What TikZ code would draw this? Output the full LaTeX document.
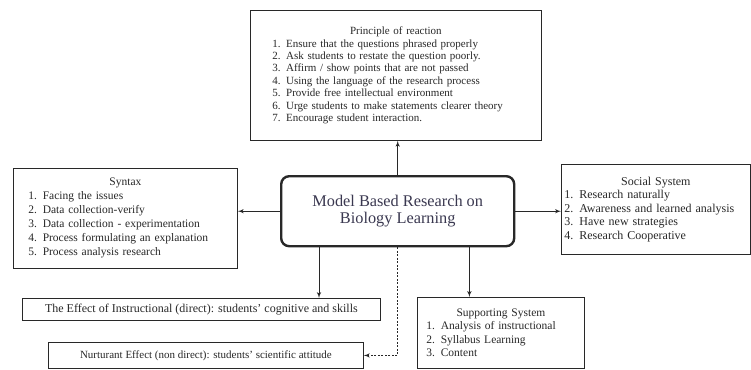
\documentclass[tikz,border=0pt]{standalone}
\usepackage{fontspec}
\setmainfont{Liberation Serif}
\usepackage{tikz}
\definecolor{inkish}{RGB}{40, 40, 40}
\definecolor{slateish}{RGB}{58, 56, 80}
\usetikzlibrary{arrows}
\tikzset{
  boxnode/.style = {draw=inkish, rectangle, line width=0.8pt, inner ysep=2pt,
    anchor=north west, text=inkish},
  box_list/.style = {boxnode, align=left, font=\fontsize{11}{12.4}\selectfont},% kotak daftar
  box_line/.style = {boxnode, align=center, font=\fontsize{12}{13}\selectfont},% kotak satu baris
  box_main/.style = {boxnode, align=center, rounded corners=8pt, line width=2.4pt,
    text=slateish, font=\fontsize{16.3}{17.5}\selectfont},% kotak model utama
  arr/.style = {->, draw=inkish, line width=1pt},
}
\newcommand{\boxtitle}[1]{\hbox to \hsize{\hfil #1\hfil}}

\begin{document}
\begin{tikzpicture}[>=latex', x=1pt, y=-1pt]
\useasboundingbox (0,0) rectangle (751,369);
\fill[white] (0,0) rectangle (751,369);

\node [box_main, minimum width=233pt, minimum height=70pt] (model) at (280,175)
  {Model Based Research on\\Biology Learning};

\node [box_list, inner xsep=22pt, text width=247pt, minimum height=130pt] (reaction) at (250,10)
  {\boxtitle{Principle of reaction}
   1. Ensure that the questions phrased properly\\
   2. Ask students to restate the question poorly.\\
   3. Affirm / show points that are not passed\\
   4. Using the language of the research process\\
   5. Provide free intellectual environment\\
   6. Urge students to make statements clearer theory\\
   7. Encourage student interaction.\\[6pt]};

\node [box_list, font=\fontsize{11.5}{14}\selectfont, inner xsep=15pt, text width=194pt,
  minimum height=100pt] (syntax) at (13,168)
  {\boxtitle{Syntax}
   1. Facing the issues\\
   2. Data collection-verify\\
   3. Data collection - experimentation\\
   4. Process formulating an explanation\\
   5. Process analysis research};

\node [box_list, font=\fontsize{12}{13.5}\selectfont, inner xsep=3pt, text width=183pt,
  minimum height=90pt] (social) at (561,164)
  {\boxtitle{Social System}
   1. Research naturally\\
   2. Awareness and learned analysis\\
   3. Have new strategies\\
   4. Research Cooperative\\[8pt]};

\node [box_list, font=\fontsize{11.5}{13.5}\selectfont, inner xsep=9pt, text width=149pt,
  minimum height=71pt] (support) at (417,297)
  {\boxtitle{Supporting System}
   1. Analysis of instructional\\
   2. Syllabus Learning\\
   3. Content};

\node [box_line, minimum width=358pt, minimum height=22pt] (effect) at (22,298)
  {The Effect of Instructional (direct): students' cognitive and skills};

\node [box_line, font=\fontsize{11}{12}\selectfont, minimum width=315pt,
  minimum height=26pt] (nurture) at (48,342)
  {Nurturant Effect (non direct): students' scientific attitude};

% panah dari model
\draw [arr] (model.north) -- (model.north |- reaction.south);
\draw [arr] (model.west) -- (model.west -| syntax.east);
\draw [arr] (model.east) -- (model.east -| social.west);
\draw [arr] ([xshift=39pt]model.south west) -- ([xshift=39pt]model.south west |- effect.north);
\draw [arr] ([xshift=-46pt]model.south east) -- ([xshift=-46pt]model.south east |- support.north);
\draw [arr, dash pattern=on 2pt off 1.5pt] (model.south) |- (nurture.east);
\end{tikzpicture}
\end{document}
